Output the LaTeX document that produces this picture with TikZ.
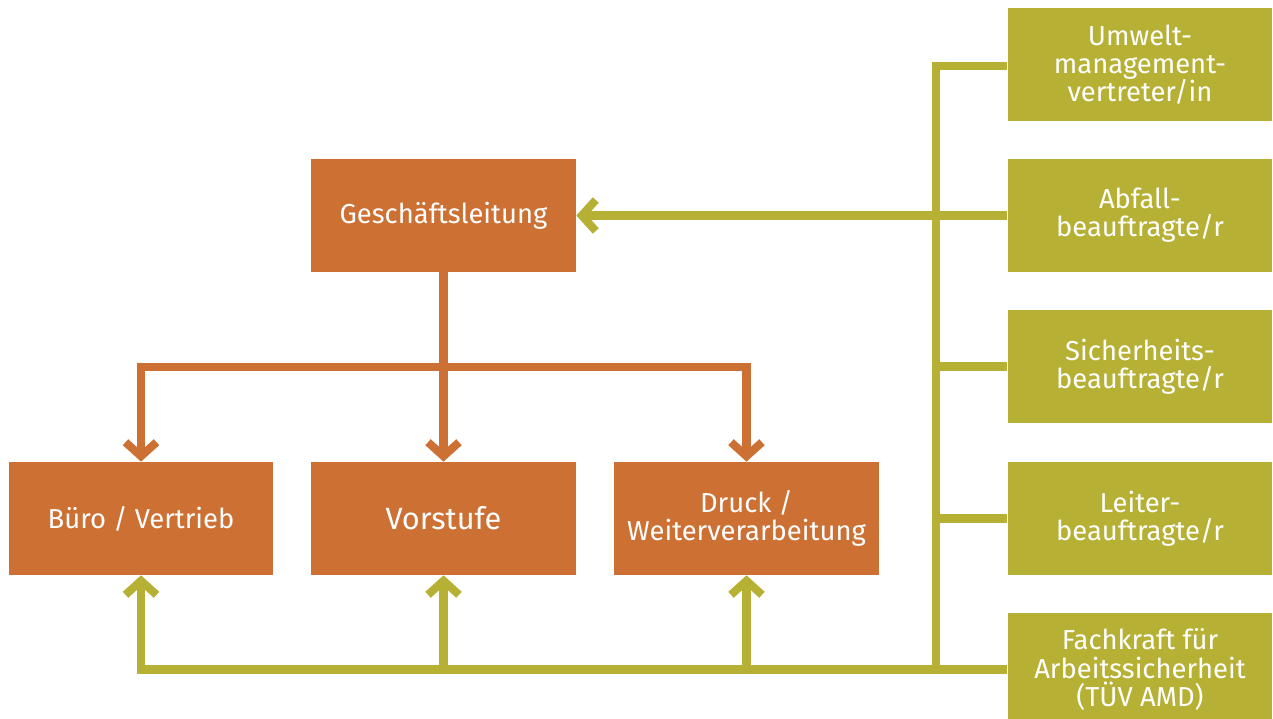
\documentclass[tikz,border=0pt]{standalone}
\usepackage{fontspec}
\setmainfont{Fira Sans}
\usepackage{tikz}
\usetikzlibrary{arrows.meta}
\definecolor{orga}{RGB}{205,112,51}
\definecolor{umw}{RGB}{182,177,52}
\tikzset{
  font={\fontsize{15.6pt}{16pt}\selectfont},
  box/.style={inner sep=0pt, minimum width=5.3cm, minimum height=2.26cm,
    text=white, align=center},
  obox/.style={box, fill=orga},
  gbox/.style={box, fill=umw},
  oline/.style={draw=orga, line width=4.6pt},
  gline/.style={draw=umw, line width=4.6pt},
  tip/.style={-{Straight Barb[length=0.28cm,width=0.62cm]}}}

\begin{document}
\begin{tikzpicture}[x=0.02cm,y=-0.02cm]
\useasboundingbox (0,0) rectangle (1273,719);
\clip (0,0) rectangle (1273,719);
% Organisation
\node[obox] (gl) at (443.5,215.5) {Geschäftsleitung};
\node[obox] (buero) at (141,518.5) {Büro / Vertrieb};
\node[obox,font={\fontsize{17.5pt}{18pt}\selectfont}] (vorstufe) at (443.5,518.5) {Vorstufe};
\node[obox] (druck) at (746.5,518.5) {Druck /\\Weiterverarbeitung};
% Beauftragte
\node[gbox] (umwelt) at (1140,64.5) {Umwelt-\\management-\\vertreter/in};
\node[gbox] (abfall) at (1140,215.5) {Abfall-\\beauftragte/r};
\node[gbox] (sicher) at (1140,366.5) {Sicherheits-\\beauftragte/r};
\node[gbox] (leiter) at (1140,518.5) {Leiter-\\beauftragte/r};
\node[gbox] (fachkraft) at (1140,669.5) {Fachkraft für\\Arbeitssicherheit\\(TÜV AMD)};
\coordinate (split) at (443.5,367);
\coordinate (spinetop) at (936,66);
\coordinate (spinebot) at (936,669.5);
% orange lines
\draw[oline] (gl.south) -- (split);
\draw[oline,tip] (split) -| (buero.north);
\draw[oline,tip] (split) -- (vorstufe.north);
\draw[oline,tip] (split) -| (druck.north);
% green lines
\draw[gline] (umwelt.west |- spinetop) -- (spinetop) -- (spinebot);
\draw[gline,tip] (abfall.west) -- (gl.east);
\draw[gline] (sicher.west) -- (sicher.west -| spinetop);
\draw[gline] (leiter.west) -- (leiter.west -| spinetop);
\draw[gline,tip] (fachkraft.west) -- (fachkraft.west -| buero.south) -- (buero.south);
\draw[gline,tip] (vorstufe.south |- fachkraft.west) -- (vorstufe.south);
\draw[gline,tip] (druck.south |- fachkraft.west) -- (druck.south);
\end{tikzpicture}
\end{document}
